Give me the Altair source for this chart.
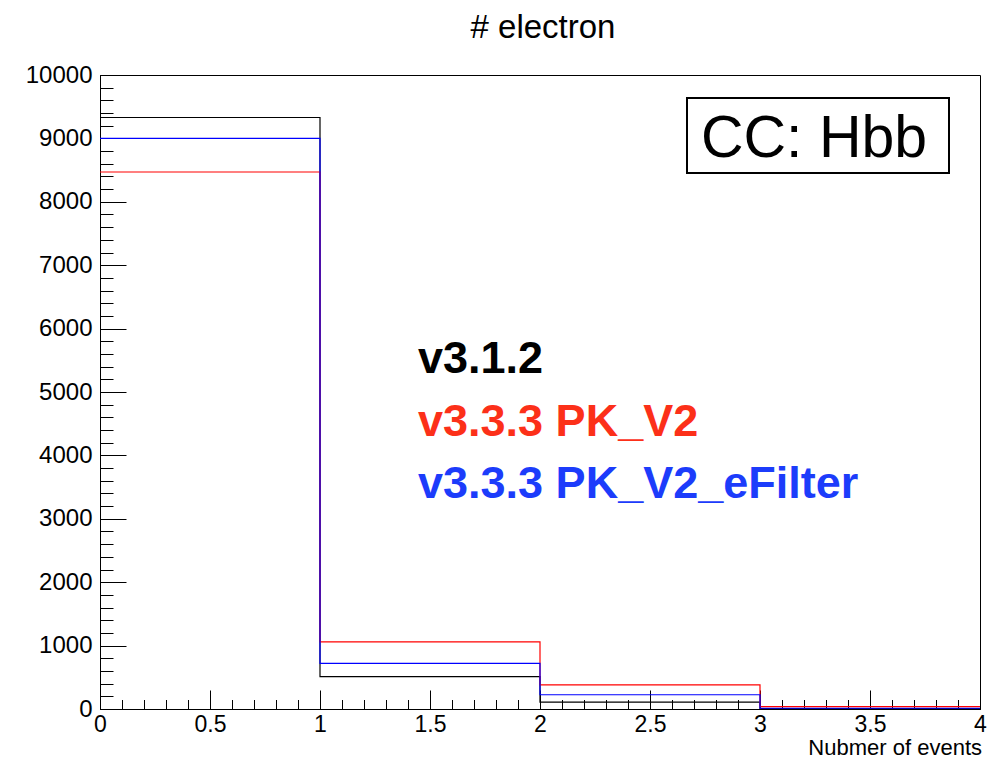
import altair as alt
import pandas as pd

# ---- data ----
bin_edges = [0, 1, 2, 3, 4]
black_counts = [9330, 510, 110, 8]      # v3.1.2
red_counts = [8470, 1060, 380, 36]      # v3.3.3 PK_V2
blue_counts = [9000, 720, 225, 12]      # v3.3.3 PK_V2_eFilter
series_names = ["v3.1.2", "v3.3.3 PK_V2", "v3.3.3 PK_V2_eFilter"]
series_colors = ["#000000", "#ff0000", "#0000ff"]
text_colors = ["#000000", "#fc3019", "#1c3cfb"]

x_major = [0, 0.5, 1, 1.5, 2, 2.5, 3, 3.5, 4]
x_minor = [round(i * 0.1, 1) for i in range(0, 41)]
y_major = [i * 1000 for i in range(0, 11)]
y_minor = [i * 200 for i in range(0, 51)]

W, H = 880, 634
FONT = "Liberation Sans"


def step_frame(counts, name):
    return pd.DataFrame({
        "x": bin_edges,
        "y": counts + [counts[-1]],
        "series": name,
    })


xs = alt.Scale(domain=[0, 4], nice=False, zero=False)
ys = alt.Scale(domain=[0, 10000], nice=False)

# Layer with labelled axes (no ticks)
black = alt.Chart(step_frame(black_counts, series_names[0])).mark_line(
    interpolate="step-after", color=series_colors[0], strokeWidth=1.2
).encode(
    x=alt.X("x:Q", scale=xs, axis=alt.Axis(
        orient="bottom", values=x_major, ticks=False, tickSize=0, labelFontSize=23,
        labelPadding=4, labelFlush=False, labelOverlap=False, labelFont=FONT,
        labelColor="black", domainColor="black", grid=False, title=None,
        labelExpr="datum.value == 0 ? '0' : format(datum.value, '')")),
    y=alt.Y("y:Q", scale=ys, axis=alt.Axis(
        orient="left", values=y_major, ticks=False, tickSize=0, labelFontSize=24,
        labelPadding=8, labelOverlap=False, labelFont=FONT, labelColor="black",
        domainColor="black", grid=False, title=None, format="d")),
)

# Layer with major inward ticks
red = alt.Chart(step_frame(red_counts, series_names[1])).mark_line(
    interpolate="step-after", color=series_colors[1], strokeWidth=1.2
).encode(
    x=alt.X("x:Q", scale=xs, axis=alt.Axis(
        orient="top", offset=-H, values=x_major, tickSize=19, labels=False,
        domain=False, grid=False, title=None, tickColor="black", tickWidth=1)),
    y=alt.Y("y:Q", scale=ys, axis=alt.Axis(
        orient="right", offset=-W, values=y_major, tickSize=26, labels=False,
        domain=False, grid=False, title=None, tickColor="black", tickWidth=1)),
)

# Layer with minor inward ticks
blue = alt.Chart(step_frame(blue_counts, series_names[2])).mark_line(
    interpolate="step-after", color=series_colors[2], strokeWidth=1.2
).encode(
    x=alt.X("x:Q", scale=xs, axis=alt.Axis(
        orient="top", offset=-H, values=x_minor, tickSize=9.5, labels=False,
        domain=False, grid=False, title=None, tickColor="black", tickWidth=1)),
    y=alt.Y("y:Q", scale=ys, axis=alt.Axis(
        orient="right", offset=-W, values=y_minor, tickSize=13, labels=False,
        domain=False, grid=False, title=None, tickColor="black", tickWidth=1)),
)

one = pd.DataFrame({"a": [0]})

title = alt.Chart(one).mark_text(
    text="# electron", font=FONT, fontSize=33, align="center", baseline="alphabetic",
    color="black"
).encode(x=alt.value(443), y=alt.value(-37))

xtitle = alt.Chart(one).mark_text(
    text="Nubmer of events", font=FONT, fontSize=22, align="right",
    baseline="alphabetic", color="black"
).encode(x=alt.value(882), y=alt.value(680))

box = alt.Chart(one).mark_rect(
    fill="white", stroke="black", strokeWidth=2
).encode(x=alt.value(587), x2=alt.value(849), y=alt.value(23), y2=alt.value(98))

box_text = alt.Chart(one).mark_text(
    text="CC: Hbb", font=FONT, fontSize=59, align="center", baseline="alphabetic",
    color="black"
).encode(x=alt.value(714), y=alt.value(82))

legend_layers = []
for i, (name, col) in enumerate(zip(series_names, text_colors)):
    legend_layers.append(
        alt.Chart(one).mark_text(
            text=name, font=FONT, fontSize=45, fontWeight="bold", align="left",
            baseline="alphabetic", color=col
        ).encode(x=alt.value(318), y=alt.value(298 + 62.5 * i))
    )

chart = alt.layer(
    black, red, blue, title, xtitle, box, box_text, *legend_layers
).resolve_axis(
    x="independent", y="independent"
).properties(
    width=W, height=H,
    autosize=alt.AutoSizeParams(type="none"),
    padding={"left": 92, "top": 67, "right": 8, "bottom": 50},
    background="white",
).configure_view(
    stroke="black", strokeWidth=1
)

chart.save("out.html", embed_options={"renderer": "svg", "actions": False})
